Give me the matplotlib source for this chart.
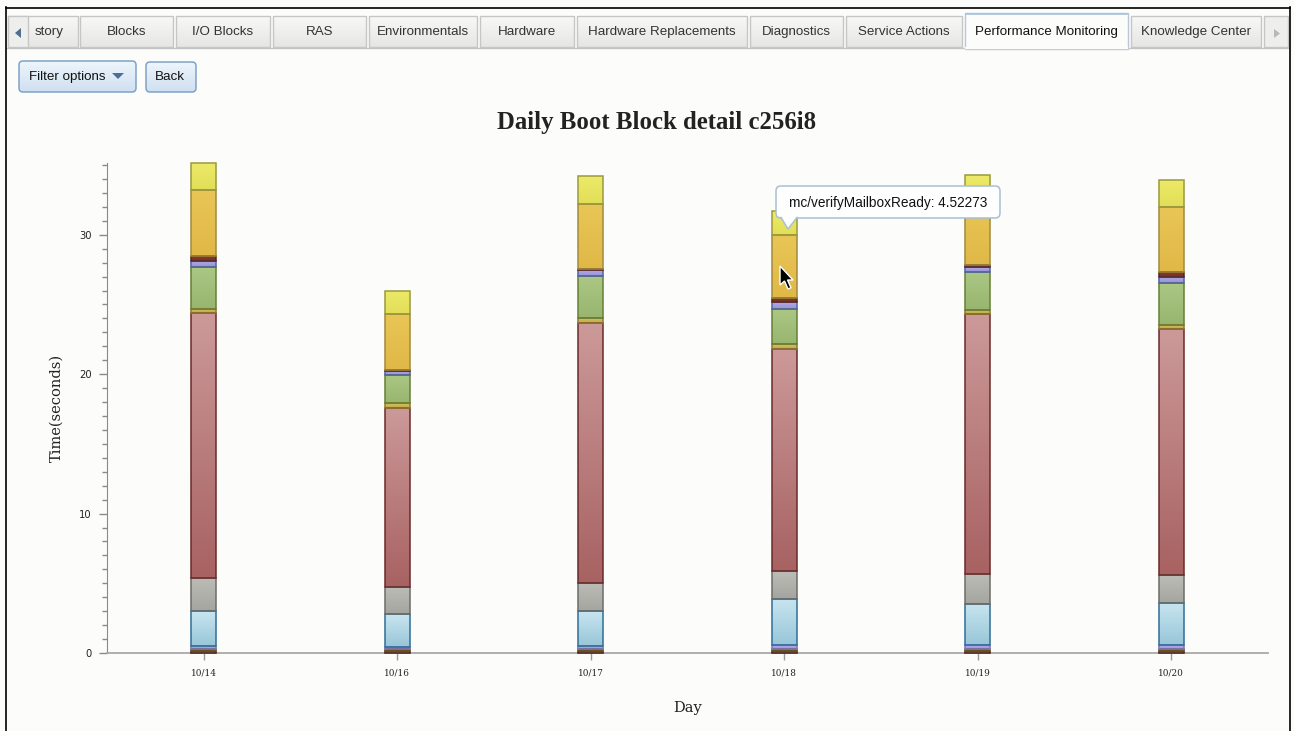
import numpy as np
import matplotlib
matplotlib.use("Agg")
import matplotlib.pyplot as plt
from matplotlib.patches import Rectangle, FancyBboxPatch, Polygon
from matplotlib.colors import LinearSegmentedColormap

# ---- chart data: boot step durations (seconds), stacked bottom -> top ----
days = ["10/14", "10/16", "10/17", "10/18", "10/19", "10/20"]
step_brown = [0.15, 0.15, 0.15, 0.15, 0.15, 0.15]
step_olive = [0.15, 0.15, 0.15, 0.15, 0.15, 0.15]
step_lavender_low = [0.20, 0.15, 0.20, 0.25, 0.25, 0.25]
step_blue = [2.50, 2.35, 2.50, 3.30, 2.95, 3.05]
step_gray = [2.40, 1.95, 2.05, 2.00, 2.20, 2.00]
step_red = [19.00, 12.85, 18.65, 15.95, 18.60, 17.65]
step_ochre = [0.30, 0.30, 0.35, 0.35, 0.30, 0.30]
step_green = [3.00, 2.05, 3.00, 2.50, 2.75, 3.00]
step_lavender_high = [0.45, 0.30, 0.40, 0.50, 0.35, 0.45]
step_darkred = [0.30, 0.05, 0.10, 0.30, 0.10, 0.35]
step_orange = [4.75, 4.05, 4.65, 4.52273, 4.50, 4.65]
step_yellow = [1.95, 1.65, 2.00, 1.70, 2.00, 1.95]

tooltip_series = "mc/verifyMailboxReady"
tooltip_day = "10/18"

tab_labels = ["story", "Blocks", "I/O Blocks", "RAS", "Environmentals", "Hardware",
              "Hardware Replacements", "Diagnostics", "Service Actions",
              "Performance Monitoring", "Knowledge Center"]
active_tab = "Performance Monitoring"

series = [step_brown, step_olive, step_lavender_low, step_blue, step_gray, step_red,
          step_ochre, step_green, step_lavender_high, step_darkred, step_orange, step_yellow]
# (top colour, bottom colour, edge colour) for each segment
styles = [
    ("#7a3024", "#5e2218", "#4a1a12"),
    ("#9c8a32", "#857526", "#6a5e1e"),
    ("#b5acec", "#9f96dc", "#7d74c0"),
    ("#c8e5f0", "#98c6d8", "#2f6f98"),
    ("#bdbdb8", "#a5a5a0", "#6c6c68"),
    ("#cc9999", "#a86262", "#6a2a2a"),
    ("#d8c060", "#c2a848", "#8e7a30"),
    ("#abc784", "#98b670", "#667f34"),
    ("#b0a9e6", "#9a94d8", "#4f64a8"),
    ("#8a3a2a", "#74301f", "#5a2418"),
    ("#e8c655", "#e0b848", "#a38a3c"),
    ("#ecea68", "#e2de58", "#9b9a3e"),
]

W, H = 1294, 731
fig = plt.figure(figsize=(W / 100, H / 100), dpi=100)
fig.patch.set_facecolor("#fcfcfa")

# page chrome layer (pixel coordinates, y downwards)
bg = fig.add_axes([0, 0, 1, 1])
bg.set_xlim(0, W)
bg.set_ylim(H, 0)
bg.axis("off")
bg.set_zorder(0)


def vgrad(axis, x0, x1, ybottom, ytop, top, bottom, clip=None, z=1):
    g = np.linspace(0, 1, 64).reshape(-1, 1)
    cmap = LinearSegmentedColormap.from_list("g", [top, bottom])
    im = axis.imshow(g, extent=(x0, x1, ybottom, ytop), origin="upper",
                     cmap=cmap, aspect="auto", interpolation="bilinear", zorder=z)
    if clip is not None:
        im.set_clip_path(clip)
    return im


# outer frame
bg.plot([5.5, 5.5], [7, H], color="black", lw=1.2, zorder=5)
bg.plot([5.5, 1289.5], [7.5, 7.5], color="black", lw=1.2, zorder=5)
bg.plot([1289.5, 1289.5], [7, H], color="black", lw=1.2, zorder=5)

# tab strip
tab_spans = [(8, 78), (80, 173), (176, 270), (273, 366), (369, 477), (480, 574),
             (577, 747), (750, 843), (846, 962), (965, 1128), (1131, 1261)]
bg.plot([6, 1289], [47.5, 47.5], color="#c4c4c4", lw=1, zorder=2)
for label, (x0, x1) in zip(tab_labels, tab_spans):
    if label == active_tab:
        r = Rectangle((x0, 13), x1 - x0, 35.5, fc="#fcfcfb", ec="#b9c8d6", lw=1, zorder=3)
        bg.add_patch(r)
        bg.plot([x0 + 1, x1 - 1], [13.5, 13.5], color="#a8c4de", lw=1.2, zorder=4)
        bg.plot([x0 + 1, x1 - 1], [48, 48], color="#fcfcfb", lw=1.6, zorder=4)
        bg.text((x0 + x1) / 2, 32, label, ha="center", va="center", fontsize=9.6,
                family="Liberation Sans", color="#111111", zorder=5)
    else:
        r = Rectangle((x0, 16), x1 - x0, 31, fc="none", ec="#c6c6c6", lw=1, zorder=3)
        bg.add_patch(r)
        vgrad(bg, x0, x1, 47, 16, "#f8f8f7", "#e6e6e4", clip=r, z=2)
        bg.text((x0 + x1) / 2 + (6 if label == "story" else 0), 32, label,
                ha="center", va="center", fontsize=9.6, family="Liberation Sans",
                color="#333333", zorder=5)
# scroll arrows
bg.add_patch(Rectangle((8, 16), 20, 31, fc="#eeeeec", ec="#c6c6c6", lw=1, zorder=4))
bg.add_patch(Polygon([(21, 28), (21, 38), (15, 33)], closed=True, fc="#4f6f8f", ec="none", zorder=5))
rr = Rectangle((1264, 16), 24, 31, fc="#eeeeec", ec="#c6c6c6", lw=1, zorder=4)
bg.add_patch(rr)
bg.add_patch(Polygon([(1274, 29), (1274, 38), (1280, 33.5)], closed=True, fc="#b8b8b8", ec="none", zorder=5))

# buttons
for (x0, y0, w, h, txt, tx) in [(19, 61, 117, 31, "Filter options", 67), (146, 62, 50, 30, "Back", 170)]:
    b = FancyBboxPatch((x0, y0), w, h, boxstyle="round,pad=0,rounding_size=4",
                       fc="none", ec="#7fa3c6", lw=1.1, zorder=4)
    bg.add_patch(b)
    vgrad(bg, x0, x0 + w, y0 + h, y0, "#eef5fc", "#cfe0f1", clip=b, z=3)
    bg.text(tx, y0 + h / 2 + 0.5, txt, ha="center", va="center", fontsize=9.6,
            family="Liberation Sans", color="#111111", zorder=5)
bg.add_patch(Polygon([(112, 73), (124, 73), (118, 79)], closed=True, fc="#4c6e92", ec="none", zorder=5))

# ---- chart ----
L, R, T, B = 107, 1268, 163, 653
ax = fig.add_axes([L / W, 1 - B / H, (R - L) / W, (B - T) / H])
ax.set_zorder(1)
ax.patch.set_alpha(0)

x = np.arange(len(days))
bw = 0.128
bottom = np.zeros(len(days))
for vals, (ctop, cbot, cedge) in zip(series, styles):
    vals = np.asarray(vals, dtype=float)
    bars = ax.bar(x, vals, bw, bottom=bottom, color=cbot, edgecolor="none", zorder=2)
    for rect in bars:
        rx, ry = rect.get_x(), rect.get_y()
        vgrad(ax, rx, rx + rect.get_width(), ry, ry + rect.get_height(), ctop, cbot, clip=rect, z=2.5)
    outline = ax.bar(x, vals, bw, bottom=bottom, fill=False, edgecolor=cedge, linewidth=1.1, zorder=3)
    for rect in outline:
        rect.set_clip_on(False)
    bottom += vals

ax.set_xlim(-0.5, len(days) - 0.5)
ax.set_ylim(0, 35.15)
ax.set_xticks(x)
ax.set_xticklabels(days, family="DejaVu Serif", fontsize=6.4, color="#222222")
ax.set_yticks([0, 10, 20, 30])
ax.set_yticks(np.arange(0, 36, 1), minor=True)
ax.tick_params(axis="y", which="major", length=6, width=1, color="#8a8a8a",
               labelsize=7.2, labelcolor="#222222", pad=5)
ax.tick_params(axis="y", which="minor", length=3.5, width=1, color="#8a8a8a")
ax.tick_params(axis="x", which="major", length=5, width=1, color="#9a9a9a", pad=6)
for s in ("top", "right"):
    ax.spines[s].set_visible(False)
ax.spines["left"].set_color("#8a8a8a")
ax.spines["bottom"].set_color("#a8a8a8")
ax.spines["bottom"].set_linewidth(1.3)
ax.set_xlabel("Day", family="DejaVu Serif", fontsize=10.5, color="#222222", labelpad=17)
ax.set_ylabel("Time(seconds)", family="DejaVu Serif", fontsize=10.5, color="#222222", labelpad=11)
fig.text(0.5077, 1 - 123 / H, "Daily Boot Block detail c256i8", ha="center", va="center",
         family="Liberation Serif", fontweight="bold", fontsize=17.8, color="#222222")

# ---- tooltip and pointer overlay ----
top = fig.add_axes([0, 0, 1, 1])
top.set_xlim(0, W)
top.set_ylim(H, 0)
top.axis("off")
top.set_zorder(2)
tip_val = step_orange[days.index(tooltip_day)]
tt = FancyBboxPatch((776, 186), 224, 32, boxstyle="round,pad=0,rounding_size=5",
                    fc="#fefefe", ec="#a9bfd4", lw=1.1, zorder=3)
top.add_patch(tt)
top.add_patch(Polygon([(781, 217), (797, 217), (788, 229)], closed=True, fc="#fefefe", ec="none", zorder=4))
top.plot([781, 788, 797], [217.5, 229, 217.5], color="#a9bfd4", lw=1.1, zorder=4)
top.text(888, 202.5, f"{tooltip_series}: {tip_val:g}", ha="center", va="center",
         fontsize=9.8, family="Liberation Sans", color="#111111", zorder=5)

cursor = np.array([(0, 0), (0, 19), (4.5, 15), (8, 23), (11, 21.8), (7.5, 14), (13, 14)])
top.add_patch(Polygon(cursor + np.array([780, 266]), closed=True, fc="black", ec="white",
                      lw=1, zorder=6))

fig.savefig("out.png", dpi=100, facecolor=fig.get_facecolor())
